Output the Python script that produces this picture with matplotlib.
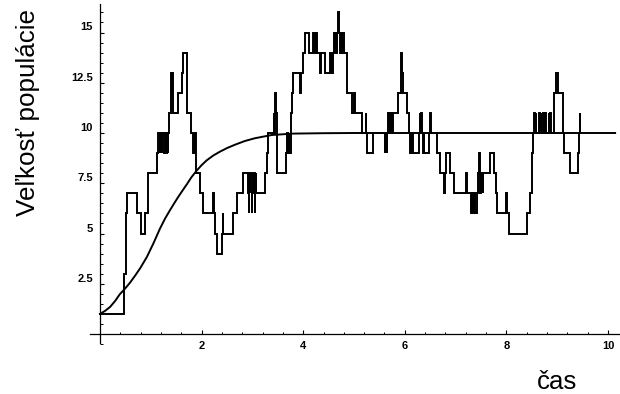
import numpy as np
import matplotlib
matplotlib.use("Agg")
import matplotlib.pyplot as plt
from matplotlib.ticker import FixedLocator

plt.rcParams['font.family'] = ['Liberation Sans', 'DejaVu Sans']

# --- data: simulated population (step function: jump time, level after jump) ---
jump_t = [0.00, 0.48, 0.51, 0.54, 0.72, 0.81, 0.89, 0.95, 1.12, 1.15,
          1.18, 1.19, 1.22, 1.23, 1.26, 1.27, 1.30, 1.31, 1.33, 1.34,
          1.36, 1.39, 1.40, 1.41, 1.42, 1.43, 1.44, 1.54, 1.61, 1.63,
          1.71, 1.80, 1.84, 1.85, 1.86, 1.87, 1.88, 1.89, 1.96, 2.03,
          2.22, 2.24, 2.26, 2.30, 2.41, 2.42, 2.43, 2.62, 2.69, 2.82,
          2.92, 2.925, 2.93, 2.935, 2.95, 2.955, 2.99, 2.995, 3.00, 3.005,
          3.02, 3.025, 3.05, 3.055, 3.06, 3.065, 3.08, 3.25, 3.28, 3.31,
          3.43, 3.435, 3.44, 3.45, 3.46, 3.465, 3.47, 3.475, 3.48, 3.49,
          3.67, 3.69, 3.70, 3.72, 3.73, 3.75, 3.76, 3.77, 3.79, 3.94,
          3.96, 4.00, 4.04, 4.12, 4.19, 4.21, 4.22, 4.24, 4.25, 4.27,
          4.33, 4.36, 4.43, 4.53, 4.55, 4.56, 4.57, 4.59, 4.60, 4.62,
          4.63, 4.65, 4.66, 4.69, 4.71, 4.72, 4.75, 4.76, 4.79, 4.80,
          4.86, 4.87, 4.97, 5.00, 5.01, 5.15, 5.23, 5.24, 5.26, 5.38,
          5.61, 5.62, 5.64, 5.65, 5.66, 5.68, 5.69, 5.72, 5.73, 5.75,
          5.76, 5.87, 5.92, 5.93, 5.95, 5.96, 6.04, 6.09, 6.10, 6.12,
          6.13, 6.15, 6.16, 6.27, 6.29, 6.30, 6.32, 6.34, 6.36, 6.37,
          6.38, 6.48, 6.49, 6.51, 6.63, 6.69, 6.78, 6.79, 6.81, 6.89,
          6.97, 7.20, 7.23, 7.30, 7.33, 7.35, 7.37, 7.39, 7.42, 7.44,
          7.47, 7.48, 7.49, 7.50, 7.51, 7.52, 7.53, 7.54, 7.68, 7.76,
          7.80, 7.81, 8.00, 8.02, 8.05, 8.40, 8.46, 8.50, 8.51, 8.52,
          8.54, 8.56, 8.58, 8.59, 8.65, 8.66, 8.68, 8.69, 8.73, 8.74,
          8.76, 8.77, 8.83, 8.84, 8.86, 8.88, 8.93, 8.94, 8.98, 9.02,
          9.11, 9.13, 9.25, 9.40, 9.43, 9.44, 9.45]
jump_n = [1, 3, 6, 7, 6, 5, 6, 8, 9, 10,
          9, 10, 9, 10, 9, 10, 9, 10, 9, 10,
          11, 12, 13, 12, 13, 12, 11, 12, 13, 14,
          11, 10, 9, 10, 9, 10, 9, 8, 7, 6,
          7, 6, 5, 4, 5, 6, 5, 6, 7, 8,
          7, 6, 7, 8, 7, 8, 7, 6, 7, 8,
          7, 8, 7, 6, 7, 8, 7, 8, 9, 10,
          11, 10, 11, 12, 11, 12, 11, 10, 9, 8,
          9, 10, 9, 10, 9, 10, 11, 12, 13, 12,
          13, 14, 15, 14, 15, 14, 15, 14, 15, 14,
          13, 14, 13, 14, 13, 14, 13, 14, 15, 14,
          15, 14, 15, 16, 15, 14, 15, 14, 15, 14,
          13, 12, 11, 12, 11, 10, 11, 10, 9, 10,
          9, 10, 9, 10, 11, 10, 11, 10, 11, 10,
          11, 12, 13, 14, 13, 12, 11, 10, 9, 10,
          9, 10, 9, 10, 11, 10, 11, 10, 9, 10,
          9, 10, 11, 10, 9, 8, 7, 8, 9, 8,
          7, 8, 7, 6, 7, 6, 7, 6, 7, 8,
          9, 8, 7, 8, 7, 8, 7, 8, 9, 8,
          7, 6, 7, 6, 5, 6, 7, 8, 9, 10,
          11, 10, 11, 10, 11, 10, 11, 10, 11, 10,
          11, 10, 11, 10, 11, 10, 11, 12, 13, 12,
          10, 9, 8, 9, 10, 11, 10]
sim_end = 9.46

# --- data: deterministic (logistic-like) curve ---
curve_t = [0.00, 0.10, 0.20, 0.30, 0.39, 0.48, 0.59, 0.69, 0.79, 0.92,
           1.05, 1.18, 1.28, 1.38, 1.46, 1.54, 1.62, 1.71, 1.80, 1.90,
           2.00, 2.10, 2.23, 2.36, 2.50, 2.66, 2.85, 3.05, 3.38, 3.80,
           4.40, 5.00, 10.14]
curve_n = [1.00, 1.15, 1.35, 1.65, 1.98, 2.22, 2.55, 2.90, 3.27, 3.82,
           4.50, 5.24, 5.74, 6.17, 6.50, 6.82, 7.12, 7.45, 7.80, 8.12,
           8.40, 8.64, 8.88, 9.07, 9.25, 9.42, 9.60, 9.74, 9.90, 9.97,
           9.99, 10.00, 10.00]

x_major = [2, 4, 6, 8, 10]
x_major_labels = ["2", "4", "6", "8", "10"]
y_major = [2.5, 5, 7.5, 10, 12.5, 15]
y_major_labels = ["2.5", "5", "7.5", "10", "12.5", "15"]

# --- figure ---
W, H = 620, 394
fig = plt.figure(figsize=(W / 100, H / 100), dpi=100)
ax = fig.add_axes([0, 0, 1, 1])
ax.patch.set_visible(False)

px_per_x = 50.8
px_per_y = 20.1
x0_px, y0_px = 100, 334
ax.set_xlim(-x0_px / px_per_x, (W - x0_px) / px_per_x)
ax.set_ylim(-(H - y0_px) / px_per_y, y0_px / px_per_y)

st = list(jump_t) + [sim_end]
sn = list(jump_n) + [jump_n[-1]]
ax.step(st, sn, where='post', color='black', lw=1.4, solid_joinstyle='miter')
ax.plot(curve_t, curve_n, color='black', lw=1.4, solid_joinstyle='round')

for s in ['top', 'right']:
    ax.spines[s].set_visible(False)
ax.spines['left'].set_position(('data', 0))
ax.spines['bottom'].set_position(('data', 0))
ax.spines['left'].set_bounds(-0.45, 16.4)
ax.spines['bottom'].set_bounds(-0.2, 10.3)
for s in ['left', 'bottom']:
    ax.spines[s].set_linewidth(0.9)

ax.set_xticks(x_major, labels=x_major_labels)
ax.set_yticks(y_major, labels=y_major_labels)
ax.xaxis.set_minor_locator(FixedLocator(np.arange(0.4, 10.3, 0.4)))
ax.yaxis.set_minor_locator(FixedLocator(np.arange(-0.5, 16.4, 0.5)))
ax.tick_params(which='major', direction='in', length=3.2, width=0.8,
               labelsize=8, pad=5)
ax.tick_params(which='minor', direction='in', length=1.8, width=0.7)
for lbl in ax.get_yticklabels() + ax.get_xticklabels():
    lbl.set_fontweight('bold')
for lbl in ax.get_yticklabels():
    lbl.set_verticalalignment('bottom')

fig.text(28.5 / W, 1 - 112.5 / H, "Veľkosť populácie", rotation=90,
         ha='center', va='center', fontsize=18.7)
fig.text(557.5 / W, 1 - 382 / H, "čas", ha='center', va='center', fontsize=18.5)

fig.savefig("out.png", dpi=100)
